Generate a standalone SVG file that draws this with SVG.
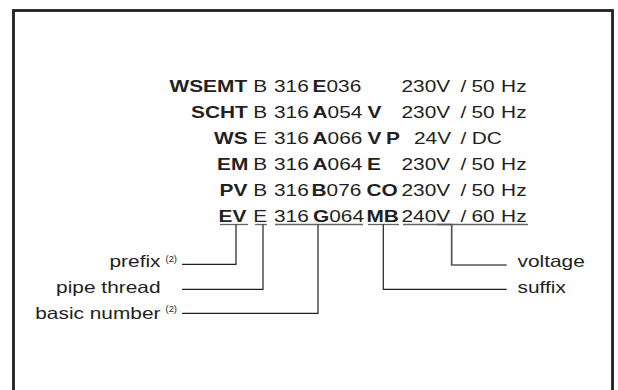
<svg xmlns="http://www.w3.org/2000/svg" width="618" height="390" viewBox="0 0 618 390">
<style>
.t{font-family:"Liberation Sans",Arial,sans-serif;font-size:16.3px;fill:#231f20}
.b{font-weight:bold}
.sup{font-family:"Liberation Sans",Arial,sans-serif;font-size:9px;fill:#231f20}
.ul{stroke:#666;stroke-width:1.3;fill:none}
.c{stroke:#231f20;stroke-width:1.2;fill:none}
.cv{stroke:#555;stroke-width:1.7;fill:none}
</style>
<rect id="frame" x="13.5" y="10.5" width="599" height="400" fill="#fff" stroke="#231f20" stroke-width="2.8"/>
<g id="codes" transform="scale(1.28 1)">
<text class="t" y="92.3"><tspan class="b" x="132.42">WSEMT</tspan><tspan x="197.89">B</tspan><tspan x="214.06">316</tspan><tspan class="b" x="244.14">E</tspan><tspan>036</tspan><tspan x="313.67">230V</tspan><tspan x="359.77">/</tspan><tspan x="368.36">50</tspan><tspan x="391.48">Hz</tspan></text>
<text class="t" y="118.2"><tspan class="b" x="149.22">SCHT</tspan><tspan x="197.89">B</tspan><tspan x="214.06">316</tspan><tspan class="b" x="244.14">A</tspan><tspan>054</tspan><tspan class="b" x="287.11">V</tspan><tspan x="313.67">230V</tspan><tspan x="359.77">/</tspan><tspan x="368.36">50</tspan><tspan x="391.48">Hz</tspan></text>
<text class="t" y="144.1"><tspan class="b" x="167.19">WS</tspan><tspan x="197.89">E</tspan><tspan x="214.06">316</tspan><tspan class="b" x="244.14">A</tspan><tspan>066</tspan><tspan class="b" x="287.11">V</tspan><tspan class="b" x="301.56">P</tspan><tspan x="323.44">24V</tspan><tspan x="359.77">/</tspan><tspan x="368.52">DC</tspan></text>
<text class="t" y="170"><tspan class="b" x="169.53">EM</tspan><tspan x="197.89">B</tspan><tspan x="214.06">316</tspan><tspan class="b" x="244.14">A</tspan><tspan>064</tspan><tspan class="b" x="286.72">E</tspan><tspan x="313.67">230V</tspan><tspan x="359.77">/</tspan><tspan x="368.36">50</tspan><tspan x="391.48">Hz</tspan></text>
<text class="t" y="195.9"><tspan class="b" x="171.48">PV</tspan><tspan x="197.89">B</tspan><tspan x="214.06">316</tspan><tspan class="b" x="243.36">B</tspan><tspan>076</tspan><tspan class="b" x="286.33">CO</tspan><tspan x="313.67">230V</tspan><tspan x="359.77">/</tspan><tspan x="368.36">50</tspan><tspan x="391.48">Hz</tspan></text>
<text class="t" y="221.8"><tspan class="b" x="170.7">EV</tspan><tspan x="197.89">E</tspan><tspan x="214.06">316</tspan><tspan class="b" x="244.53">G</tspan><tspan>064</tspan><tspan class="b" x="286.33">MB</tspan><tspan x="313.67">240V</tspan><tspan x="359.77">/</tspan><tspan x="368.36">60</tspan><tspan x="391.48">Hz</tspan></text>
</g>
<g id="underlines">
<line class="ul" x1="220" y1="224.5" x2="248" y2="224.5"/>
<line class="ul" x1="255" y1="224.5" x2="267" y2="224.5"/>
<line class="ul" x1="275" y1="224.5" x2="363" y2="224.5"/>
<line class="ul" x1="368" y1="224.5" x2="399" y2="224.5"/>
<line class="ul" x1="403" y1="224.5" x2="528" y2="224.5"/>
</g>
<g id="connectors">
<path class="c" d="M236,224.5 V264.3 H182"/>
<path class="c" d="M263,224.5 V289.3 H182"/>
<path class="c" d="M318,224.5 V313.3 H182"/>
<path class="c" d="M383.3,224.5 V289.3 H506.7"/>
<path class="cv" d="M437,224.5 H451.7 V265 H506.7"/>
</g>
<g id="labels" transform="scale(1.28 1)">
<text id="prefix" class="t" x="125.39" y="267.3" text-anchor="end">prefix</text>
<text id="pipe-thread" class="t" x="125.39" y="293" text-anchor="end">pipe thread</text>
<text id="basic-number" class="t" x="125.39" y="319" text-anchor="end">basic number</text>
<text id="voltage" class="t" x="404.3" y="267.3">voltage</text>
<text id="suffix" class="t" x="404.3" y="293.3">suffix</text>
</g>
<g id="footnotes">
<text class="sup" x="165.5" y="262" textLength="11.5" lengthAdjust="spacingAndGlyphs">(2)</text>
<text class="sup" x="165.5" y="311.7" textLength="11.5" lengthAdjust="spacingAndGlyphs">(2)</text>
</g>
</svg>
